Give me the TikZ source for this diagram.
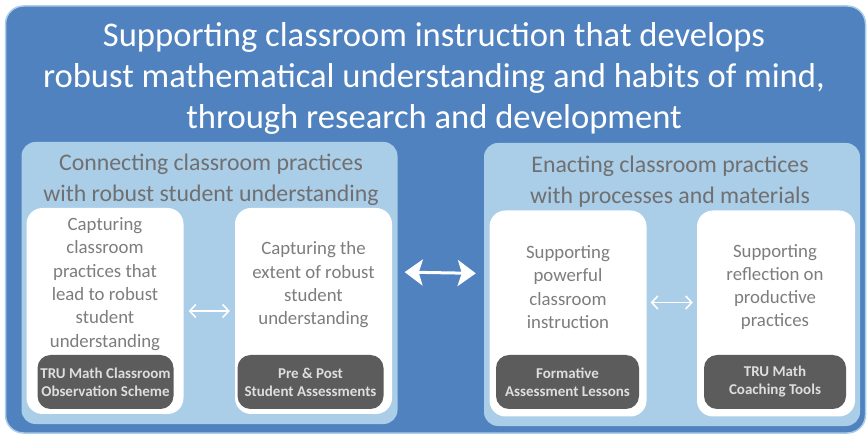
\documentclass[tikz,border=0pt]{standalone}
\usepackage{fontspec}
\setmainfont{Carlito}
\usepackage{tikz}
\usetikzlibrary{arrows.meta}
\definecolor{trublue}{RGB}{80,130,191}
\definecolor{trulight}{RGB}{170,205,232}
\definecolor{trugray}{RGB}{92,92,92}
\definecolor{trutext}{RGB}{125,125,125}
\definecolor{tooltext}{RGB}{222,222,222}

\tikzset{
  panel/.style={fill=trulight, rounded corners=14pt, inner sep=0pt},
  whitebox/.style={fill=white, rounded corners=16pt, inner sep=0pt,
    minimum width=157pt, minimum height=206pt},
  toolbox/.style={fill=trugray, rounded corners=13pt, text=tooltext, align=center,
    inner sep=0pt, minimum height=54pt, font=\fontsize{15}{18}\selectfont\bfseries},
  boxtext/.style={text=trutext, align=center, font=\fontsize{18.8}{23.3}\selectfont},
  headtext/.style={text=trutext!90!black, align=center, font=\fontsize{23.8}{31}\selectfont},
  twoway/.style={{Straight Barb[length=6pt,width=13pt]}-{Straight Barb[length=6pt,width=13pt]},
    white, line width=1.6pt}
}

\begin{document}
\begin{tikzpicture}[x=1pt,y=-1pt]
  \useasboundingbox (0,0) rectangle (868,438);

  % outer frame and title
  \node[fill=trublue, draw=trulight, line width=1.5pt, rounded corners=18pt,
    minimum width=860pt, minimum height=427pt] (frame) at (435.5,219.5) {};
  \node[text=white, align=center, font=\fontsize{34.6}{41}\selectfont] (title) at (434,78)
    {Supporting classroom instruction that develops\\
     robust mathematical understanding and habits of mind,\\
     through research and development};

  % the two panels
  \node[panel, minimum width=376pt, minimum height=282pt] (connect) at (209.5,283) {};
  \node[panel, minimum width=376pt, minimum height=283pt] (enact) at (672,284.5) {};
  \node[headtext] (connecthead) at (211,180)
    {Connecting classroom practices\\with robust student understanding};
  \node[headtext] (enacthead) at (670,182)
    {Enacting classroom practices\\with processes and materials};

  % white boxes
  \node[whitebox] (observe) at (105,311) {};
  \node[whitebox] (extent) at (313.5,311) {};
  \node[whitebox] (powerful) at (568,313.5) {};
  \node[whitebox, minimum width=158pt] (reflect) at (776,313.5) {};

  \node[boxtext] (observetxt) at (105,284)
    {Capturing\\classroom\\practices that\\lead to robust\\student\\understanding};
  \node[boxtext] (extenttxt) at (313.5,285)
    {Capturing the\\extent of robust\\student\\understanding};
  \node[boxtext] (powerfultxt) at (568,287)
    {Supporting\\powerful\\classroom\\instruction};
  \node[boxtext] (reflecttxt) at (775,287)
    {Supporting\\reflection on\\productive\\practices};

  % tools
  \node[toolbox, minimum width=136pt] (scheme) at (105.5,382) {TRU Math Classroom\\Observation Scheme};
  \node[toolbox, minimum width=146pt] (assess) at (310.5,382) {Pre \& Post\\Student Assessments};
  \node[toolbox, minimum width=143pt] (lessons) at (567.5,382) {Formative\\Assessment Lessons};
  \node[toolbox, minimum width=142pt] (coaching) at (775,382) {TRU Math\\Coaching Tools};

  % arrows
  \draw[twoway, shorten <=5pt, shorten >=5pt] (observe.east) -- (extent.west);
  \draw[twoway, shorten <=4pt, shorten >=4pt] ([yshift=11pt]powerful.east) -- ([yshift=11pt]reflect.west);
  \draw[{Stealth[length=18pt,width=26pt,inset=4pt]}-{Stealth[length=18pt,width=26pt,inset=4pt]},
    white, line width=3pt, shorten <=7pt, shorten >=8pt]
    ([yshift=11pt]connect.east) -- ([yshift=11pt]enact.west);
\end{tikzpicture}
\end{document}
